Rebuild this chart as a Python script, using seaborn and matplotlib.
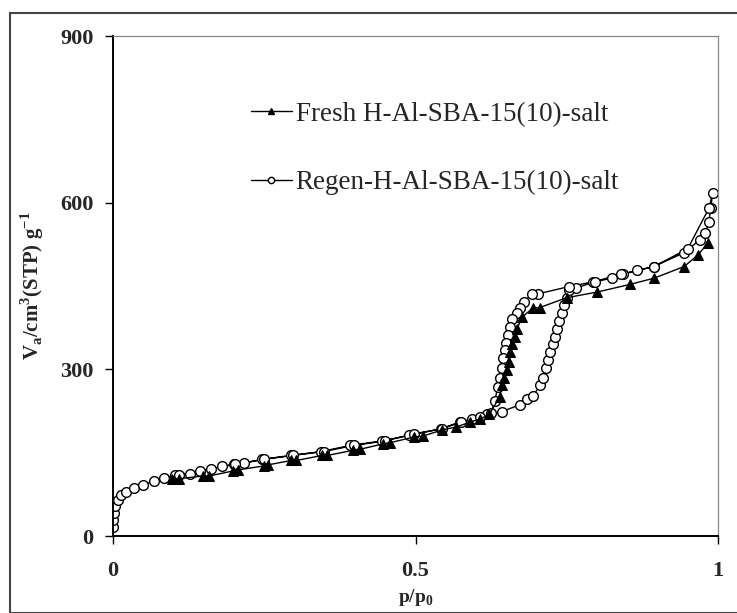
import numpy as np
import pandas as pd
import matplotlib
matplotlib.use("Agg")
import matplotlib.pyplot as plt
import seaborn as sns
from matplotlib.lines import Line2D
from matplotlib.patches import Rectangle

# ---- data ----
fresh_x = [0.097, 0.109, 0.148, 0.159, 0.198, 0.206, 0.249, 0.256, 0.295, 0.303,
           0.346, 0.354, 0.396, 0.408, 0.447, 0.458, 0.497, 0.513, 0.544, 0.567,
           0.590, 0.606, 0.622, 0.639, 0.643, 0.646, 0.651, 0.654, 0.657, 0.660,
           0.664, 0.668, 0.676, 0.695, 0.705, 0.750, 0.800, 0.855, 0.894, 0.944,
           0.967, 0.983]
fresh_y = [103, 103, 108, 108, 117, 119, 126, 128, 136, 136,
           145, 145, 154, 156, 166, 168, 178, 180, 191, 196,
           205, 210, 219, 250, 271, 285, 299, 313, 331, 345,
           359, 373, 394, 411, 411, 429, 439, 453, 464, 485,
           506, 527]

regen_x = [0.000, 0.000, 0.002, 0.004, 0.008, 0.013, 0.022, 0.035, 0.050, 0.068,
           0.084, 0.103, 0.128, 0.144, 0.162, 0.180, 0.200, 0.216, 0.247, 0.294,
           0.344, 0.392, 0.444, 0.490, 0.542, 0.573, 0.594, 0.618, 0.643, 0.672,
           0.684, 0.695, 0.705, 0.711, 0.715, 0.719, 0.723, 0.727, 0.730, 0.734,
           0.738, 0.742, 0.746, 0.750, 0.754, 0.765, 0.794, 0.824, 0.843, 0.866,
           0.894, 0.944, 0.970, 0.979, 0.985, 0.988, 0.991,
           0.985, 0.950, 0.894, 0.839, 0.796, 0.754, 0.703, 0.692, 0.680, 0.672,
           0.667, 0.660, 0.657, 0.653, 0.650, 0.648, 0.645, 0.643, 0.640, 0.636,
           0.631, 0.625, 0.606, 0.575, 0.544, 0.497, 0.449, 0.398, 0.348, 0.297,
           0.249, 0.202, 0.109]
regen_y = [17, 29, 42, 54, 64, 73, 80, 87, 92, 99,
           105, 109, 112, 117, 120, 126, 129, 131, 138, 145,
           152, 163, 171, 181, 193, 205, 210, 219, 224, 236,
           247, 252, 271, 285, 303, 317, 331, 345, 359, 373,
           387, 401, 415, 429, 443, 446, 457, 464, 471, 478,
           485, 510, 533, 545, 566, 590, 617,
           590, 517, 485, 471, 458, 449, 436, 435, 422, 411,
           401, 390, 376, 362, 348, 334, 320, 303, 285, 268,
           243, 222, 215, 205, 193, 184, 171, 163, 152, 145,
           138, 129, 110]

series_names = ["Fresh H-Al-SBA-15(10)-salt", "Regen-H-Al-SBA-15(10)-salt"]
x_ticks = [0, 0.5, 1]
x_tick_labels = ["0", "0.5", "1"]
y_ticks = [0, 300, 600, 900]
y_tick_labels = ["0", "300", "600", "900"]

fresh = pd.DataFrame({"x": fresh_x, "y": fresh_y})
regen = pd.DataFrame({"x": regen_x, "y": regen_y})

sns.set_theme(style="white")
plt.rcParams["font.family"] = ["Liberation Serif", "DejaVu Serif"]
plt.rcParams["mathtext.fontset"] = "custom"
plt.rcParams["mathtext.rm"] = "Liberation Serif:bold"
plt.rcParams["mathtext.bf"] = "Liberation Serif:bold"

fig = plt.figure(figsize=(7.37, 6.13), dpi=100)
ax = fig.add_axes([113 / 737, 1 - 536 / 613, 605 / 737, 500 / 613])

sns.lineplot(data=regen, x="x", y="y", sort=False, estimator=None, ax=ax,
             color="black", linewidth=1.0, marker="o", markersize=7,
             markerfacecolor="white", markeredgecolor="black", markeredgewidth=1.0)
sns.lineplot(data=fresh, x="x", y="y", sort=False, estimator=None, ax=ax,
             color="black", linewidth=1.0, marker="^", markersize=7.5,
             markerfacecolor="black", markeredgecolor="black")

ax.set_xlim(0, 1)
ax.set_ylim(0, 900)
ax.set_xticks(x_ticks)
ax.set_xticklabels(x_tick_labels, fontweight="bold", fontsize=16)
ax.set_yticks(y_ticks)
ax.set_yticklabels(y_tick_labels, fontweight="bold", fontsize=16)
ax.tick_params(axis="both", direction="out", length=6, width=1, color="black",
               bottom=True, left=True, pad=8)
ax.tick_params(axis="x", pad=12)

for s in ["left", "bottom"]:
    ax.spines[s].set_color("black")
    ax.spines[s].set_linewidth(1.4)
for s in ["top", "right"]:
    ax.spines[s].set_color("#888888")
    ax.spines[s].set_linewidth(0.9)
    ax.spines[s].set_linestyle((0, (2, 1)))

ax.set_xlabel(r"p/p$_\mathregular{0}$", fontsize=14, fontweight="bold", labelpad=4)
ax.set_ylabel(r"V$_\mathregular{a}$/cm$^\mathregular{3}$(STP) g$^\mathregular{-1}$",
              fontsize=15, fontweight="bold", labelpad=10)

handles = [
    Line2D([], [], color="black", lw=1.0, marker="^", markersize=5,
           markerfacecolor="black"),
    Line2D([], [], color="black", lw=1.0, marker="o", markersize=4.5,
           markerfacecolor="white"),
]
leg = ax.legend(handles, series_names, loc="upper left",
                bbox_to_anchor=(0.21, 0.89), frameon=False, fontsize=19.5,
                handlelength=1.5, handletextpad=0.15, labelspacing=1.6,
                borderaxespad=0)

fig.patches.append(Rectangle((10 / 737, 0), 1 - 10 / 737 + 0.01, 1 - 13 / 613,
                             transform=fig.transFigure, fill=False,
                             edgecolor="#444444", linewidth=1.5))

fig.savefig("out.png", dpi=100, facecolor="white")
